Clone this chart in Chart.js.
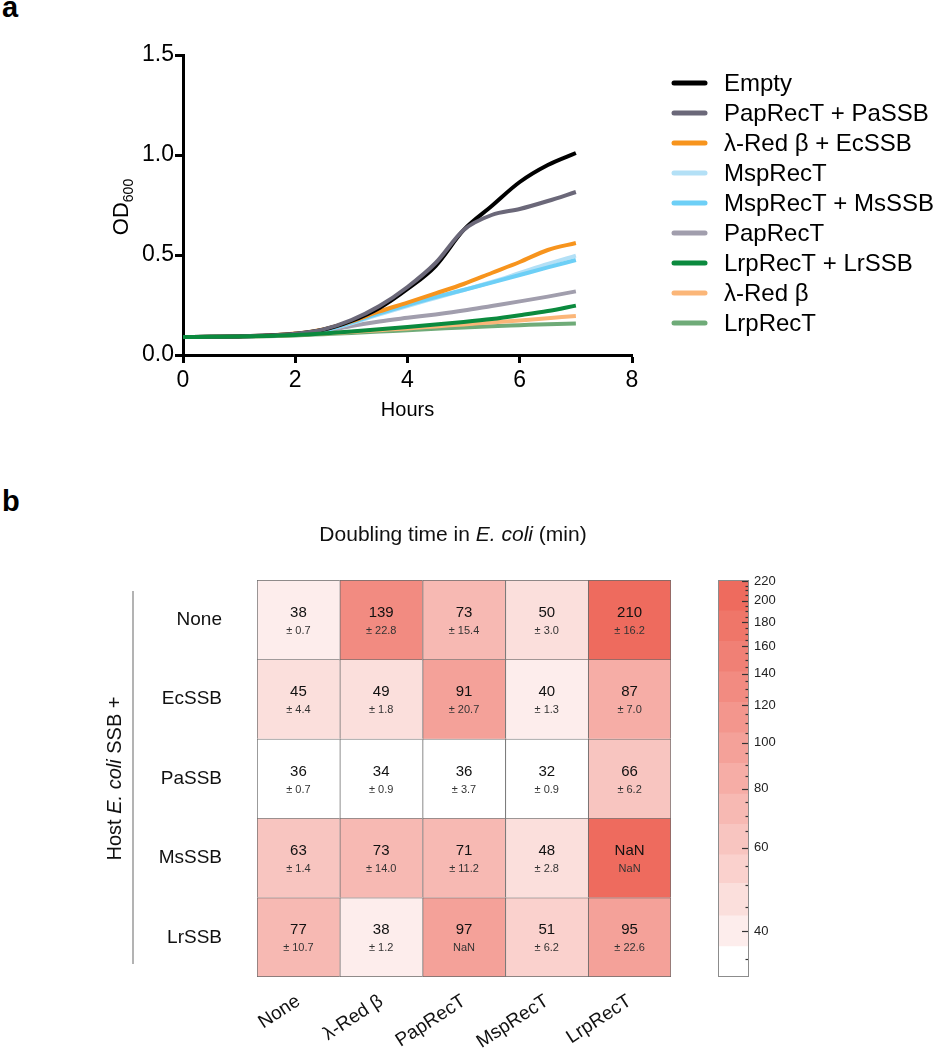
<!DOCTYPE html>
<html><head><meta charset="utf-8">
<script src="https://cdn.jsdelivr.net/npm/chart.js@4.4.1/dist/chart.umd.min.js"></script>
<style>
html,body{margin:0;padding:0;background:#fff;width:937px;height:1050px;overflow:hidden;font-family:Arial,"Liberation Sans",Helvetica,sans-serif;}
.wrap{position:absolute;}
.panel{position:absolute;font-weight:bold;font-size:29px;line-height:29px;color:#000;}
</style></head><body>
<div class="panel" style="left:2px;top:-7px">a</div>
<div class="panel" style="left:2px;top:487px">b</div>
<div class="wrap" style="left:0;top:0;width:937px;height:440px"><canvas id="c1"></canvas></div>
<div class="wrap" style="left:0;top:460px;width:700px;height:590px"><canvas id="c2"></canvas></div>
<div class="wrap" style="left:700px;top:460px;width:237px;height:590px"><canvas id="c3"></canvas></div>
<script>
// ---------- Panel a data ----------
const hours  = [0,0.5,1,1.5,2,2.5,3,3.5,4,4.5,5,5.5,6,6.5,7];
const empty  = [0.090,0.091,0.093,0.097,0.106,0.126,0.170,0.235,0.330,0.445,0.625,0.745,0.865,0.950,1.010];
const papPa  = [0.090,0.091,0.093,0.097,0.106,0.128,0.175,0.245,0.340,0.460,0.625,0.700,0.730,0.770,0.815];
const redEc  = [0.090,0.091,0.093,0.097,0.107,0.128,0.168,0.218,0.262,0.308,0.355,0.410,0.465,0.525,0.560];
const msp    = [0.090,0.091,0.093,0.097,0.105,0.122,0.158,0.203,0.245,0.285,0.325,0.365,0.410,0.455,0.497];
const mspMs  = [0.090,0.091,0.093,0.097,0.105,0.123,0.162,0.208,0.250,0.290,0.325,0.362,0.400,0.438,0.475];
const pap    = [0.090,0.091,0.093,0.097,0.104,0.118,0.145,0.168,0.186,0.203,0.222,0.245,0.268,0.292,0.318];
const lrpLr  = [0.090,0.091,0.092,0.095,0.100,0.108,0.118,0.129,0.140,0.152,0.165,0.180,0.199,0.220,0.247];
const red    = [0.090,0.091,0.092,0.095,0.100,0.107,0.115,0.124,0.133,0.143,0.153,0.163,0.173,0.184,0.195];
const lrp    = [0.090,0.091,0.092,0.094,0.098,0.104,0.110,0.117,0.124,0.131,0.138,0.144,0.149,0.154,0.158];
const seriesNames = ['Empty','PapRecT + PaSSB','λ-Red β + EcSSB','MspRecT','MspRecT + MsSSB','PapRecT','LrpRecT + LrSSB','λ-Red β','LrpRecT'];
const seriesValues = [empty,papPa,redEc,msp,mspMs,pap,lrpLr,red,lrp];
const seriesColors = ['#000000','#6b6879','#f7941d','#b3e0f6','#6dcff6','#a19ead','#0b8a3e','#fbb678','#6fab78'];
const seriesOrder = [2,1,3,5,4,6,0,7,8];
const yTicksA = [0,0.5,1.0,1.5];
const xTicksA = [0,2,4,6,8];

// ---------- Panel b data ----------
const rowNames = ['None','EcSSB','PaSSB','MsSSB','LrSSB'];
const colNames = ['None','λ-Red β','PapRecT','MspRecT','LrpRecT'];
const dtNone  = [38,139,73,50,210];
const dtEcSSB = [45,49,91,40,87];
const dtPaSSB = [36,34,36,32,66];
const dtMsSSB = [63,73,71,48,NaN];
const dtLrSSB = [77,38,97,51,95];
const sdNone  = [0.7,22.8,15.4,3.0,16.2];
const sdEcSSB = [4.4,1.8,20.7,1.3,7.0];
const sdPaSSB = [0.7,0.9,3.7,0.9,6.2];
const sdMsSSB = [1.4,14.0,11.2,2.8,NaN];
const sdLrSSB = [10.7,1.2,NaN,6.2,22.6];
const dtRows = [dtNone,dtEcSSB,dtPaSSB,dtMsSSB,dtLrSSB];
const sdRows = [sdNone,sdEcSSB,sdPaSSB,sdMsSSB,sdLrSSB];
const bandEdges = [32,37.1,43.1,50.5,58,67.3,78,90.5,105,121.8,141.3,163.9,190.2,221];
const cbMajor = [40,60,80,100,120,140,160,180,200,220];

const FAM = 'Arial, "Liberation Sans", Helvetica, sans-serif';
Chart.defaults.font.family = FAM;
Chart.defaults.color = '#000';

// colour map
const TOP = [238,107,94];
function bandColor(k){
  const t = Math.pow(k/(bandEdges.length-2), 0.85);
  const c = [0,1,2].map(i=>Math.round(255 - t*(255-TOP[i])));
  return `rgb(${c[0]},${c[1]},${c[2]})`;
}
function colorFor(v){
  if (isNaN(v)) return bandColor(bandEdges.length-2);
  let k = 0;
  for (let i=0;i<bandEdges.length-1;i++){ if (v >= bandEdges[i]) k = i; }
  return bandColor(k);
}

// ---------- Chart 1 ----------
const legendPlugin = {
  id:'customLegend',
  afterDraw(chart){
    const ctx = chart.ctx, a = chart.chartArea;
    const x0 = a.right + 40, y0 = 83, step = 30;
    ctx.save();
    ctx.font = '24px ' + FAM;
    ctx.textBaseline = 'middle';
    chart.data.datasets.forEach((ds,i)=>{
      const y = y0 + i*step;
      ctx.strokeStyle = ds.borderColor; ctx.lineWidth = 5; ctx.lineCap='round';
      ctx.beginPath(); ctx.moveTo(x0+2,y); ctx.lineTo(x0+33,y); ctx.stroke();
      ctx.fillStyle = '#000';
      ctx.fillText(ds.label, x0+52, y+1);
    });
    // y title OD600
    const cx = 120, cy = 207;
    ctx.translate(cx, cy); ctx.rotate(-Math.PI/2);
    ctx.font = '22px ' + FAM;
    const w1 = ctx.measureText('OD').width;
    ctx.font = '14px ' + FAM;
    const w2 = ctx.measureText('600').width;
    const start = -(w1+w2)/2;
    ctx.textBaseline = 'alphabetic'; ctx.textAlign='left';
    ctx.font = '22px ' + FAM;
    ctx.fillText('OD', start, 8);
    ctx.font = '14px ' + FAM;
    ctx.fillText('600', start + w1, 13);
    ctx.restore();
  }
};

new Chart(document.getElementById('c1'), {
  type:'line',
  data:{
    datasets: seriesNames.map((n,i)=>({
      label:n,
      data: hours.map((h,j)=>({x:h, y:seriesValues[i][j]})),
      borderColor: seriesColors[i], backgroundColor: seriesColors[i],
      borderWidth: 4, pointRadius:0, cubicInterpolationMode:'monotone', order: seriesOrder[i], fill:false
    }))
  },
  options:{
    responsive:true, maintainAspectRatio:false, animation:false,
    layout:{padding:{left:0, top:55, right:305, bottom:0}},
    plugins:{legend:{display:false}, tooltip:{enabled:false}},
    scales:{
      x:{type:'linear', min:0, max:8,
        afterBuildTicks(s){ s.ticks = xTicksA.map(v=>({value:v})); },
        afterFit(s){ s.height = 85; },
        border:{display:true, color:'#000', width:3},
        grid:{drawOnChartArea:false, drawTicks:true, tickLength:8, tickColor:'#000', tickWidth:3},
        ticks:{font:{size:23}, color:'#000', padding:4, callback:v=>String(v)},
        title:{display:true, text:'Hours', font:{size:20}, color:'#000', padding:{top:4,bottom:18}}
      },
      y:{type:'linear', min:0, max:1.5,
        afterBuildTicks(s){ s.ticks = yTicksA.map(v=>({value:v})); },
        afterFit(s){ s.width = 183; },
        border:{display:true, color:'#000', width:3},
        grid:{drawOnChartArea:false, drawTicks:true, tickLength:8, tickColor:'#000', tickWidth:3},
        ticks:{font:{size:23}, color:'#000', padding:1, callback:v=>Number(v).toFixed(1)}
      }
    }
  },
  plugins:[legendPlugin]
});

// ---------- Chart 2: heatmap ----------
const heatPlugin = {
  id:'heatText',
  afterDatasetsDraw(chart){
    const ctx = chart.ctx;
    ctx.save();
    ctx.textAlign='center'; ctx.textBaseline='middle';
    chart.data.datasets.forEach((ds,i)=>{
      const meta = chart.getDatasetMeta(i);
      meta.data.forEach((bar,j)=>{
        const cx = bar.x, cy = (bar.y + bar.base)/2;
        const v = dtRows[i][j], sd = sdRows[i][j];
        ctx.fillStyle='#111';
        ctx.font='15px ' + FAM;
        ctx.fillText(isNaN(v)?'NaN':String(v), cx, cy-7);
        ctx.fillStyle='#333';
        ctx.font='11px ' + FAM;
        ctx.fillText(isNaN(sd)?'NaN':'± '+sd.toFixed(1), cx, cy+11);
      });
    });
    ctx.restore();
  },
  afterDraw(chart){
    const ctx = chart.ctx, a = chart.chartArea;
    ctx.save();
    // title
    const midX = (a.left + a.right)/2 - 11, ty = 75;
    const f1 = '21px ' + FAM, f2 = 'italic 21px ' + FAM;
    const parts = [['Doubling time in ',f1],['E. coli',f2],[' (min)',f1]];
    let tw = 0; parts.forEach(p=>{ctx.font=p[1]; tw+=ctx.measureText(p[0]).width;});
    let x = midX - tw/2;
    ctx.fillStyle='#111'; ctx.textBaseline='middle'; ctx.textAlign='left';
    parts.forEach(p=>{ctx.font=p[1]; ctx.fillText(p[0], x, ty); x+=ctx.measureText(p[0]).width;});
    // vertical bracket line
    ctx.strokeStyle='#9a9a9a'; ctx.lineWidth=1.5;
    ctx.beginPath(); ctx.moveTo(133, a.top+11); ctx.lineTo(133, a.bottom-13); ctx.stroke();
    // rotated y title
    ctx.translate(115, (a.top+a.bottom)/2);
    ctx.rotate(-Math.PI/2);
    const f3 = '20px ' + FAM, f4 = 'italic 20px ' + FAM;
    const p2 = [['Host ',f3],['E. coli',f4],[' SSB +',f3]];
    tw = 0; p2.forEach(p=>{ctx.font=p[1]; tw+=ctx.measureText(p[0]).width;});
    x = -tw/2;
    p2.forEach(p=>{ctx.font=p[1]; ctx.fillText(p[0], x, 0); x+=ctx.measureText(p[0]).width;});
    ctx.restore();
  }
};

new Chart(document.getElementById('c2'), {
  type:'bar',
  data:{
    labels: colNames,
    datasets: rowNames.map((r,i)=>({
      label:r,
      data: colNames.map(()=>1),
      backgroundColor: dtRows[i].map(colorFor),
      borderColor:'#6a6a6a',
      borderSkipped:false,
      borderWidth:(c)=>({left:1, top:1, right: c.dataIndex===colNames.length-1?1:0, bottom: c.datasetIndex===rowNames.length-1?1:0}),
      barPercentage:1, categoryPercentage:1
    }))
  },
  options:{
    responsive:true, maintainAspectRatio:false, animation:false,
    layout:{padding:{left:0, top:120, right:29, bottom:0}},
    plugins:{legend:{display:false}, tooltip:{enabled:false}},
    scales:{
      x:{type:'category', stacked:true,
        afterFit(s){ s.height = 73; },
        grid:{display:false, drawTicks:false}, border:{display:false},
        ticks:{font:{size:19}, color:'#111', minRotation:33, maxRotation:33, padding:13}
      },
      y:{type:'linear', stacked:true, min:0, max:rowNames.length, reverse:true,
        afterBuildTicks(s){ s.ticks = rowNames.map((_,i)=>({value:i+0.5})); },
        afterFit(s){ s.width = 257; },
        grid:{display:false, drawTicks:false}, border:{display:false},
        ticks:{font:{size:19}, color:'#111', padding:35, callback:(v)=>rowNames[Math.round(v-0.5)]}
      }
    }
  },
  plugins:[heatPlugin]
});

// ---------- Chart 3: colour bar ----------
const cbPlugin = {
  id:'cbDeco',
  afterDatasetsDraw(chart){
    const ctx = chart.ctx, a = chart.chartArea, ys = chart.scales.y;
    ctx.save();
    ctx.strokeStyle='#333'; ctx.lineWidth=1.2;
    for (let v=35; v<=220; v+=5){
      const y = Math.round(ys.getPixelForValue(v))+0.5;
      const len = cbMajor.includes(v) ? 7 : 3.5;
      ctx.beginPath(); ctx.moveTo(a.right, y); ctx.lineTo(a.right-len, y); ctx.stroke();
    }
    ctx.strokeStyle='#8c8c8c'; ctx.lineWidth=1;
    ctx.strokeRect(a.left+0.5, a.top+0.5, a.right-a.left-1, a.bottom-a.top-1);
    ctx.restore();
  }
};

new Chart(document.getElementById('c3'), {
  type:'bar',
  data:{
    labels:['cb'],
    datasets: bandEdges.slice(0,-1).map((lo,k)=>({
      label:'band'+k,
      data:[[lo, bandEdges[k+1]]],
      backgroundColor: bandColor(k),
      borderWidth:0, grouped:false, barPercentage:1, categoryPercentage:1
    }))
  },
  options:{
    responsive:true, maintainAspectRatio:false, animation:false,
    layout:{padding:{left:18, top:120, right:0, bottom:73}},
    plugins:{legend:{display:false}, tooltip:{enabled:false}},
    scales:{
      x:{display:false},
      y:{type:'logarithmic', position:'right', min:bandEdges[0], max:bandEdges[bandEdges.length-1],
        afterBuildTicks(s){ s.ticks = cbMajor.map(v=>({value:v})); },
        afterFit(s){ s.width = 188; },
        grid:{display:false, drawTicks:false}, border:{display:false},
        ticks:{font:{size:13}, color:'#222', padding:5, callback:(v)=>String(v)}
      }
    }
  },
  plugins:[cbPlugin]
});
</script>
</body></html>
